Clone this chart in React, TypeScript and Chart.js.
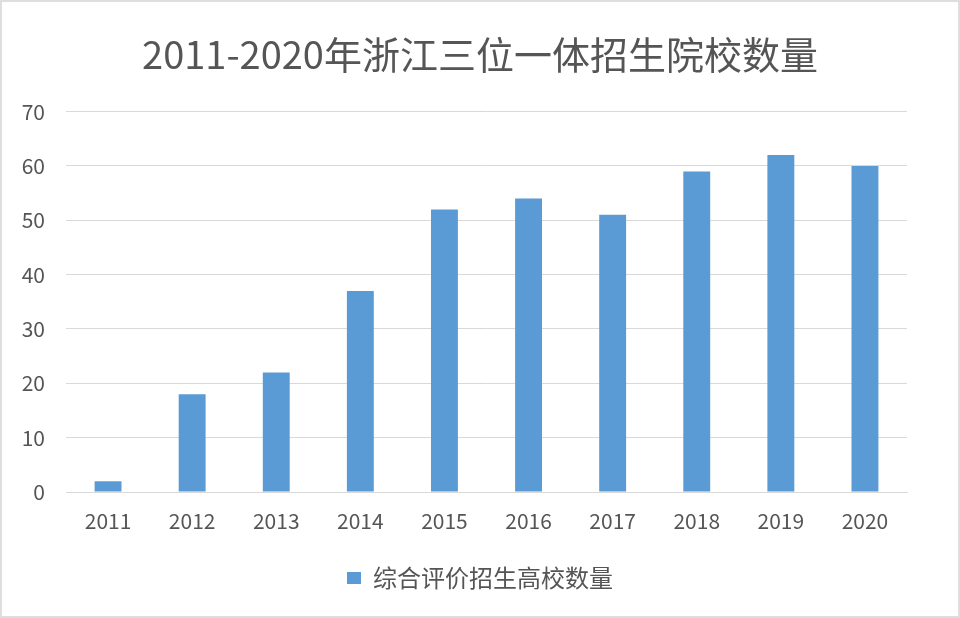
import React, { useEffect, useRef } from 'react';
import { Chart, registerables } from 'chart.js';

Chart.register(...registerables);

const categories = ['2011', '2012', '2013', '2014', '2015', '2016', '2017', '2018', '2019', '2020'];
const values = [2, 18, 22, 37, 52, 54, 51, 59, 62, 60];
const yTicks = [0, 10, 20, 30, 40, 50, 60, 70];
const titleText = '2011-2020年浙江三位一体招生院校数量';
const seriesName = '综合评价招生高校数量';

const FONT = "'Noto Sans CJK SC', 'Noto Sans', sans-serif";
const TEXT = '#555555';
const GRID = '#d9d9d9';
const BAR = '#5B9BD5';

const borderPlugin = {
  id: 'frameBorder',
  afterDraw(chart: any) {
    const { ctx, width, height } = chart;
    ctx.save();
    ctx.strokeStyle = '#dedede';
    ctx.lineWidth = 2;
    ctx.strokeRect(1, 1, width - 2, height - 2);
    ctx.restore();
  },
};

export default function App() {
  const ref = useRef<HTMLCanvasElement>(null);
  useEffect(() => {
    document.body.style.margin = '0';
    const chart = new Chart(ref.current!, {
      type: 'bar',
      data: {
        labels: categories,
        datasets: [
          {
            label: seriesName,
            data: values,
            backgroundColor: BAR,
            categoryPercentage: 1,
            barPercentage: 0.32,
          },
        ],
      },
      options: {
        animation: false,
        responsive: false,
        devicePixelRatio: 1,
        layout: { padding: { left: 0, right: 0, top: 0, bottom: 18 } },
        plugins: {
          title: {
            display: true,
            text: titleText,
            color: TEXT,
            font: { size: 38, family: FONT, weight: 'normal' },
            padding: { top: 32, bottom: 34 },
          },
          legend: {
            position: 'bottom',
            labels: {
              boxWidth: 14,
              boxHeight: 12,
              color: TEXT,
              font: { size: 24, family: FONT },
              padding: 10,
            },
          },
          tooltip: { enabled: false },
        },
        scales: {
          x: {
            grid: { display: false, drawTicks: false },
            border: { display: true, color: GRID, width: 1 },
            ticks: { color: TEXT, font: { size: 21, family: FONT }, padding: 16 },
            afterFit: (s: any) => {
              s.height = 64;
            },
          },
          y: {
            min: 0,
            max: 70,
            afterBuildTicks: (s: any) => {
              s.ticks = yTicks.map((v) => ({ value: v }));
            },
            ticks: { color: TEXT, font: { size: 21, family: FONT }, padding: 21 },
            grid: { color: GRID, drawTicks: false },
            border: { display: false },
            afterFit: (s: any) => {
              s.width = 66;
            },
          },
          yRight: {
            position: 'right',
            min: 0,
            max: 70,
            display: true,
            grid: { display: false, drawTicks: false },
            border: { display: false },
            ticks: { display: false },
            afterFit: (s: any) => {
              s.width = 53;
            },
          },
        },
      },
      plugins: [borderPlugin],
    });
    return () => chart.destroy();
  }, []);
  return <canvas ref={ref} width={960} height={618} style={{ display: 'block' }} />;
}
